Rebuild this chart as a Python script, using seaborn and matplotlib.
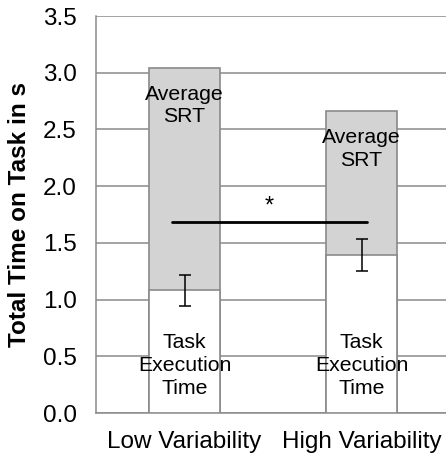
import numpy as np
import pandas as pd
import matplotlib
matplotlib.use("Agg")
import matplotlib.pyplot as plt
import seaborn as sns

categorias = ["Low Variability", "High Variability"]
tiempo_ejecucion = [1.08, 1.39]
tiempo_srt = [1.96, 1.27]
error_ejecucion = [0.135, 0.14]

sns.set_style("white", {"text.color": "black", "xtick.color": "black",
                        "ytick.color": "black", "axes.labelcolor": "black"})
plt.rcParams["font.family"] = ["Liberation Sans", "DejaVu Sans"]

df = pd.DataFrame({
    "condicion": categorias,
    "ejecucion": tiempo_ejecucion,
    "total": np.array(tiempo_ejecucion) + np.array(tiempo_srt),
})

gris = "#8a8a8a"
fig = plt.figure(figsize=(4.46, 4.59), dpi=100)
ax = fig.add_axes([96 / 446, 46 / 459, 354 / 446, 397 / 459])

sns.barplot(data=df, x="condicion", y="total", color="#d3d3d3", edgecolor=gris,
            linewidth=1.2, width=0.4, saturation=1, ax=ax, zorder=2)
sns.barplot(data=df, x="condicion", y="ejecucion", color="white", edgecolor=gris,
            linewidth=1.2, width=0.4, saturation=1, ax=ax, zorder=3)

ax.errorbar(range(len(categorias)), tiempo_ejecucion, yerr=error_ejecucion, fmt="none",
            ecolor="black", elinewidth=1.1, capsize=4, capthick=1.1, zorder=5)

for i in range(len(categorias)):
    ax.text(i, df["total"][i] - 0.33, "Average\nSRT", ha="center", va="center",
            fontsize=15.3, linespacing=1.25, color="black", zorder=6)
    ax.text(i, 0.42, "Task\nExecution\nTime", ha="center", va="center",
            fontsize=15.3, linespacing=1.25, color="black", zorder=6)

ax.plot([-0.07, 1.03], [1.685, 1.685], color="black", lw=2, zorder=6)
ax.text(0.48, 1.82, "*", ha="center", va="center", fontsize=17, color="black", zorder=6)

ax.set_ylim(0, 3.5)
ax.set_xlim(-0.5, 1.5)
ax.set_yticks(np.arange(0, 3.51, 0.5))
ax.set_yticklabels([f"{v:.1f}" for v in np.arange(0, 3.51, 0.5)], fontsize=17.5)
ax.yaxis.grid(True, color=gris, lw=1.1, zorder=0)
ax.set_axisbelow(True)

ax.set_xticks([0, 1])
ax.set_xticklabels(categorias, fontsize=17.5)
ax.set_xticks([0.5], minor=True)
ax.tick_params(axis="x", which="major", length=0, pad=13)
ax.tick_params(axis="x", which="minor", length=6, color=gris, width=1.1)
ax.tick_params(axis="y", length=8, color=gris, width=1.1, pad=6)

ax.set_xlabel("")
ax.set_ylabel("Total Time on Task in s", fontsize=17.5, fontweight="bold", labelpad=8)

for s in ["top", "right"]:
    ax.spines[s].set_visible(False)
for s in ["left", "bottom"]:
    ax.spines[s].set_color(gris)
    ax.spines[s].set_linewidth(1.1)

fig.savefig("out.png", dpi=100)
plt.close(fig)
